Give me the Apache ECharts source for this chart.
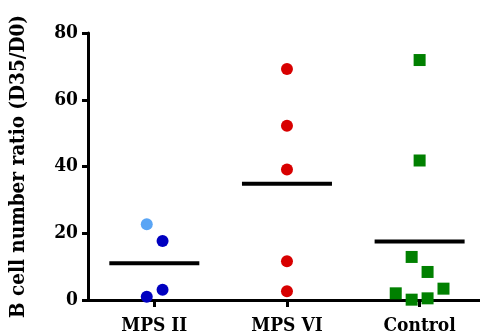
<!DOCTYPE html>
<html><head><meta charset="utf-8">
<script src="https://cdn.jsdelivr.net/npm/echarts@6/dist/echarts.min.js"></script>
<style>html,body{margin:0;padding:0;background:#fff}#c{width:480px;height:336px}</style>
</head><body><div id="c"></div>
<script>
const categories = ['MPS II', 'MPS VI', 'Control'];
const yTicks = [0, 20, 40, 60, 80];
// [x position (category index + jitter), value]
const mps2Light = [[-0.057, 22.7]];
const mps2Dark = [[0.062, 17.7], [0.062, 3.1], [-0.057, 1.0]];
const mps6 = [[1, 69.2], [1, 52.2], [1, 39.1], [1, 11.6], [1, 2.6]];
const control = [[2, 71.9], [2, 41.8], [1.94, 12.9], [2.06, 8.4], [2.18, 3.4], [1.82, 2.0], [1.94, 0.1], [2.06, 0.5]];
const means = [[0, 11.0], [1, 34.8], [2, 17.5]];

const font = '"DejaVu Serif Condensed", "DejaVu Serif", serif';
const chart = echarts.init(document.getElementById('c'));
chart.setOption({
  animation: false,
  grid: { left: 84, right: 0, top: 33, bottom: 35, containLabel: false },
  xAxis: {
    type: 'value', min: -0.5, max: -0.5 + 396 / 134,
    splitLine: { show: false },
    axisLine: { show: true, onZero: false, lineStyle: { color: '#000', width: 3 } },
    axisTick: { show: true, customValues: [0, 1, 2], length: 7, lineStyle: { color: '#000', width: 3 } },
    axisLabel: {
      customValues: [0, 1, 2], margin: 17,
      formatter: v => categories[Math.round(v)],
      color: '#000', fontFamily: font, fontWeight: 'bold', fontSize: 19
    }
  },
  yAxis: {
    type: 'value', min: yTicks[0], max: yTicks[yTicks.length - 1], interval: 20,
    name: 'B cell number ratio (D35/D0)', nameLocation: 'middle', nameGap: 59,
    nameTextStyle: { color: '#000', fontFamily: font, fontWeight: 'bold', fontSize: 20.5 },
    splitLine: { show: false },
    axisLine: { show: true, onZero: false, lineStyle: { color: '#000', width: 3 } },
    axisTick: { show: true, length: 6, lineStyle: { color: '#000', width: 3 } },
    axisLabel: { color: '#000', fontFamily: font, fontWeight: 'bold', fontSize: 19, margin: 10 }
  },
  series: [
    { type: 'scatter', data: means, symbol: 'rect', symbolSize: [90, 4], itemStyle: { color: '#000', opacity: 1 }, z: 3 },
    { type: 'scatter', data: mps2Light, symbol: 'circle', symbolSize: 12, itemStyle: { color: '#5aa5f5', opacity: 1 } },
    { type: 'scatter', data: mps2Dark, symbol: 'circle', symbolSize: 12, itemStyle: { color: '#0000c0', opacity: 1 } },
    { type: 'scatter', data: mps6, symbol: 'circle', symbolSize: 12, itemStyle: { color: '#d80000', opacity: 1 } },
    { type: 'scatter', data: control, symbol: 'rect', symbolSize: 12, itemStyle: { color: '#008000', opacity: 1 } }
  ]
});
</script>
</body></html>
